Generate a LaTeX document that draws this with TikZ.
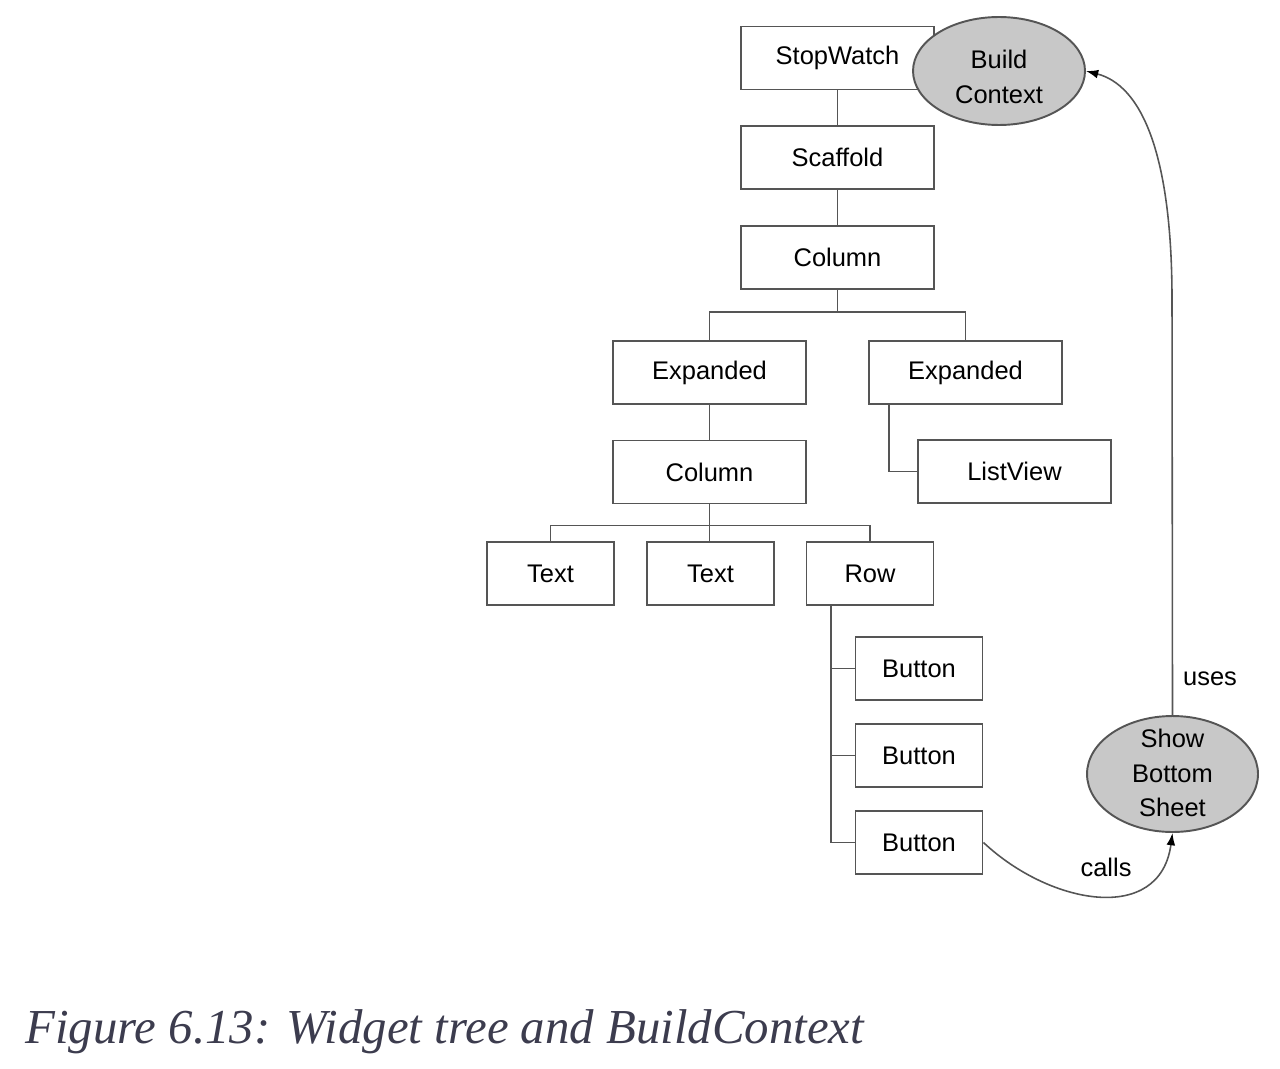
\documentclass[tikz,border=0pt]{standalone}
\usepackage{fontspec}
\setmainfont{Liberation Sans}
\newfontfamily\capfont{Liberation Serif}
\usetikzlibrary{shapes.geometric,arrows.meta}
\definecolor{linegray}{HTML}{555555}
\definecolor{ellfill}{HTML}{C8C8C8}
\definecolor{captxt}{HTML}{3C3C4E}
\begin{document}
\begin{tikzpicture}[x=0.02cm,y=-0.02cm,
  box/.style={draw=linegray,line width=1.1pt,fill=white,minimum width=3.86cm,minimum height=1.26cm,inner sep=0pt,font=\fontsize{14.5}{20}\selectfont},
  sbox/.style={box,minimum width=2.54cm},
  oval/.style={ellipse,draw=linegray,line width=1.1pt,fill=ellfill,inner sep=0pt},
  ovaltext/.style={align=center,font=\fontsize{14.5}{19.5}\selectfont,inner sep=0pt},
  conn/.style={draw=linegray,line width=1.1pt},
  arr/.style={draw=linegray,line width=0.9pt,-{Latex[length=7pt,width=5pt,color=black]}},
  lbl/.style={font=\fontsize{14.5}{20}\selectfont,inner sep=0pt}]
\useasboundingbox (0,0) rectangle (1280,1068);
\node[box] (sw) at (837.5,58) {StopWatch};
% ellipse drawn over the StopWatch box
\node[oval,minimum width=3.44cm,minimum height=2.16cm] (bc) at (999,71) {};
\node[ovaltext] (bctext) at (999,77) {Build\\Context};
\node[box] (sc) at (837.5,157.5) {Scaffold};
\node[box] (c1) at (837.5,257.5) {Column};
\node[box] (el) at (709.5,372.5) {Expanded};
\node[box] (er) at (965.5,372.5) {Expanded};
\node[box] (lv) at (1014.5,471.5) {ListView};
\node[box] (c2) at (709.5,472) {Column};
\node[sbox] (t1) at (550.5,573.5) {Text};
\node[sbox] (t2) at (710.5,573.5) {Text};
\node[sbox] (rw) at (870,573.5) {Row};
\node[sbox] (b1) at (919,668.5) {Button};
\node[sbox] (b2) at (919,755.5) {Button};
\node[sbox] (b3) at (919,842.5) {Button};
\node[oval,minimum width=3.42cm,minimum height=2.32cm] (sbs) at (1172.5,774) {};
\node[ovaltext] (sbstext) at (1172.5,773) {Show\\Bottom\\Sheet};
% tree connectors
\draw[conn] (sw.south) -- (sc.north);
\draw[conn] (sc.south) -- (c1.north);
\draw[conn] (c1.south) -- ++(0,22) -| (el.north);
\draw[conn] (c1.south) ++(0,22) -| (er.north);
\draw[conn] (el.south) -- (c2.north);
\draw[conn] ([xshift=0.42cm]er.south west) |- (lv.west);
\draw[conn] (c2.south) -- (c2.south |- t2.north);
\draw[conn] (c2.south) ++(0,21) -| (t1.north);
\draw[conn] (c2.south) ++(0,21) -| (rw.north);
\coordinate (trunk) at ([xshift=0.5cm]rw.south west);
\draw[conn] (trunk) |- (b3.west);
\draw[conn] (b1.west) -- (b1.west -| trunk);
\draw[conn] (b2.west) -- (b2.west -| trunk);
% arrows
\draw[arr] (b3.east) .. controls (1050,905) and (1160,925) .. (sbs.south);
\node[lbl] (calls) at (1106,867) {calls};
\draw[arr] (sbs.north) -- (1172,300) .. controls (1172,150) and (1140,85) .. (bc.east);
\node[lbl] (uses) at (1210,679) {uses};
% caption
\node[anchor=west,inner sep=0pt,text=captxt,font=\capfont\itshape\fontsize{27.8}{32}\selectfont] (cap) at (25,1032) {Figure 6.13: Widget tree and BuildContext};
\end{tikzpicture}
\end{document}
